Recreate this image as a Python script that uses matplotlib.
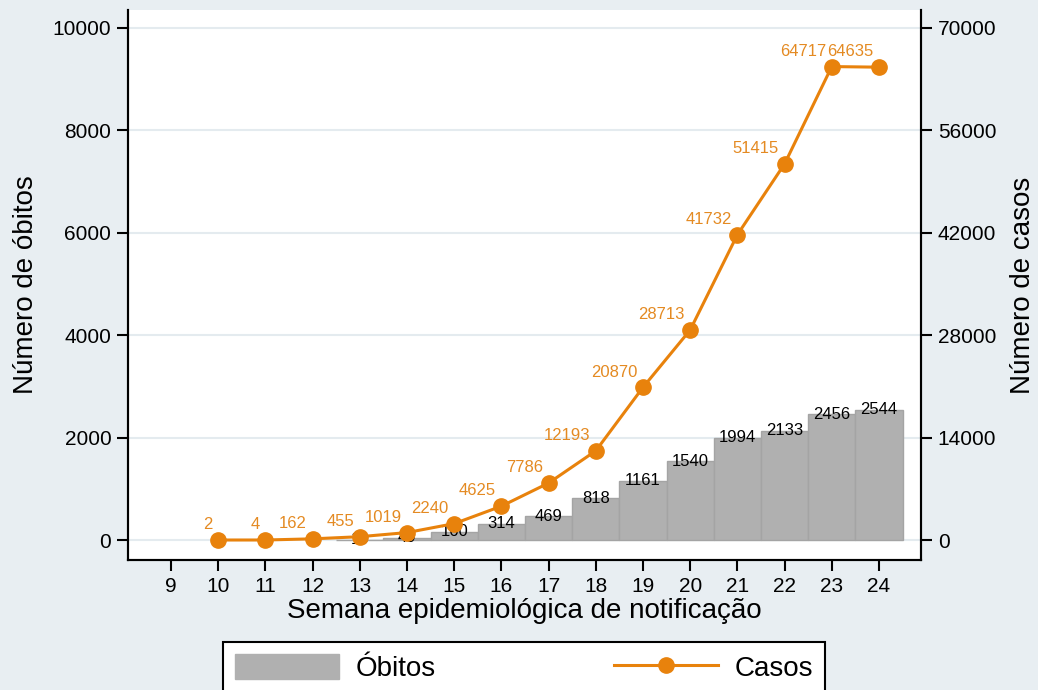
import matplotlib.pyplot as plt
from matplotlib.patches import Patch
from matplotlib.lines import Line2D

plt.rcParams['font.family'] = ['Liberation Sans', 'DejaVu Sans']

# data
semanas_obitos = [13, 14, 15, 16, 17, 18, 19, 20, 21, 22, 23, 24]
obitos = [10, 49, 160, 314, 469, 818, 1161, 1540, 1994, 2133, 2456, 2544]
semanas_casos = [10, 11, 12, 13, 14, 15, 16, 17, 18, 19, 20, 21, 22, 23, 24]
casos = [2, 4, 162, 455, 1019, 2240, 4625, 7786, 12193, 20870, 28713, 41732, 51415, 64717, 64635]
xticks = list(range(9, 25))

bg = '#e8eef2'
orange = '#e8820c'
orange_txt = '#e48a22'
bar_col = '#b0b0b0'

fig = plt.figure(figsize=(10.38, 6.9), dpi=100, facecolor=bg)
ax = fig.add_axes([128/1038, 1-560/690, (921-128)/1038, 550/690])
ax.set_facecolor('white')

ax.bar(semanas_obitos, obitos, width=1.0, color=bar_col, edgecolor='#a4a4a4', linewidth=1, zorder=2)
for x, v in zip(semanas_obitos, obitos):
    ax.text(x, v, str(v), ha='center', va='center', fontsize=12, color='black', zorder=3)

ax.set_xlim(8.09, 24.89)
ax.set_ylim(-390, 10350)
ax.set_yticks([0, 2000, 4000, 6000, 8000, 10000])
ax.set_xticks(xticks)
ax.grid(axis='y', color='#e4ebef', linewidth=1.5, zorder=0)
ax.set_axisbelow(True)
ax.tick_params(axis='both', labelsize=15, length=8, width=1.5, direction='out', pad=4)
ax.set_xlabel('Semana epidemiológica de notificação', fontsize=20, labelpad=2)
ax.set_ylabel('Número de óbitos', fontsize=20, labelpad=10)
ax.spines['top'].set_visible(False)
for s in ['left', 'bottom', 'right']:
    ax.spines[s].set_linewidth(1.5)

ax2 = ax.twinx()
ax2.plot(semanas_casos, casos, color=orange, linewidth=2.2, marker='o', markersize=11, zorder=4)
for x, v in zip(semanas_casos, casos):
    ax2.annotate(str(v), (x, v), xytext=(-4, 11), textcoords='offset points',
                 ha='right', va='center', fontsize=12, color=orange_txt)
ax2.set_ylim(-390*7, 10350*7)
ax2.set_yticks([0, 14000, 28000, 42000, 56000, 70000])
ax2.tick_params(axis='y', labelsize=15, length=8, width=1.5, pad=4)
ax2.set_ylabel('Número de casos', fontsize=20, labelpad=10)
ax2.spines['top'].set_visible(False)
for s in ['left', 'bottom', 'right']:
    ax2.spines[s].set_linewidth(1.5)

handles = [Patch(facecolor=bar_col, edgecolor=bar_col),
           Line2D([], [], color=orange, linewidth=2.2, marker='o', markersize=11)]
leg = fig.legend(handles, ['Óbitos', 'Casos'], loc='upper left',
                 bbox_to_anchor=(223/1038, 1-642/690-0.1, 602/1038, 0.1), mode='expand',
                 ncol=2, fontsize=20, frameon=True, fancybox=False, edgecolor='black',
                 framealpha=1, handlelength=3.75, handleheight=1.0, handletextpad=0.58,
                 borderpad=0.43, borderaxespad=0, columnspacing=3)
leg.get_frame().set_linewidth(1.5)

fig.savefig('out.png', dpi=100, facecolor=bg)
